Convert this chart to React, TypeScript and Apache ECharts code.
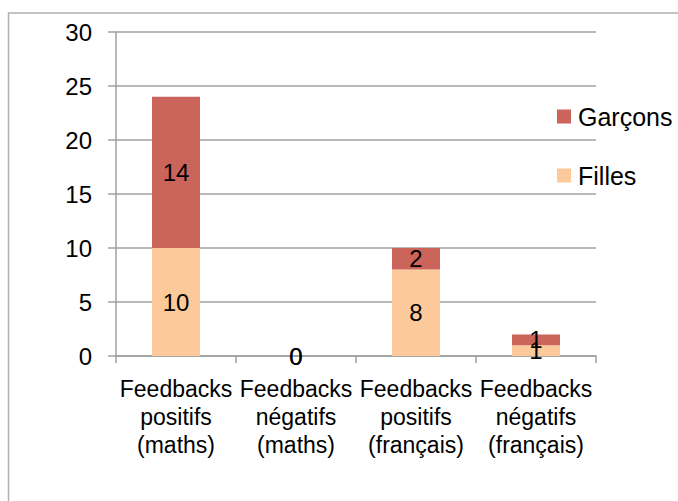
import React, { useEffect, useRef } from "react";
import * as echarts from "echarts";

const categories = [
  "Feedbacks\npositifs\n(maths)",
  "Feedbacks\nnégatifs\n(maths)",
  "Feedbacks\npositifs\n(français)",
  "Feedbacks\nnégatifs\n(français)",
];
const filles = [10, 0, 8, 1];
const garcons = [14, 0, 2, 1];
const seriesNames = ["Garçons", "Filles"];

const FONT = "'Liberation Sans', Arial, sans-serif";
const GRID_COLOR = "#a0a0a0";

export default function App() {
  const ref = useRef<HTMLDivElement>(null);
  useEffect(() => {
    if (!ref.current) return;
    const chart = echarts.init(ref.current, undefined, { renderer: "svg" });
    chart.setOption({
      animation: false,
      backgroundColor: "#ffffff",
      textStyle: { fontFamily: FONT },
      graphic: [
        {
          type: "rect",
          shape: { x: 8.5, y: 13, width: 720, height: 540 },
          style: { fill: "none", stroke: "#b0b0b0", lineWidth: 1.5 },
          silent: true,
          z: -10,
        },
      ],
      grid: { left: 116, right: 82, top: 32, bottom: 145, containLabel: false },
      legend: {
        data: [seriesNames[0], seriesNames[1]],
        orient: "vertical",
        left: 552,
        top: 99,
        itemWidth: 14,
        itemHeight: 14,
        itemGap: 34,
        icon: "rect",
        textStyle: { fontFamily: FONT, fontSize: 25, color: "#000", lineHeight: 25, padding: [0, 0, 0, 2] },
      },
      xAxis: {
        type: "category",
        data: categories,
        axisLine: { show: true, lineStyle: { color: GRID_COLOR, width: 1.5 } },
        axisTick: { show: true, length: 7, alignWithLabel: false, lineStyle: { color: GRID_COLOR, width: 1.5 } },
        axisLabel: {
          interval: 0,
          color: "#000",
          fontFamily: FONT,
          fontSize: 23,
          lineHeight: 28,
          margin: 19,
        },
      },
      yAxis: {
        type: "value",
        min: 0,
        max: 30,
        interval: 5,
        axisLine: { show: true, lineStyle: { color: GRID_COLOR, width: 1.5 } },
        axisTick: { show: true, length: 8, lineStyle: { color: GRID_COLOR, width: 1.5 } },
        splitLine: { show: true, lineStyle: { color: GRID_COLOR, width: 1.5 } },
        axisLabel: { color: "#000", fontFamily: FONT, fontSize: 24, margin: 24 },
      },
      series: [
        {
          name: seriesNames[1],
          type: "bar",
          stack: "total",
          data: filles,
          barWidth: 48,
          itemStyle: { color: "#fcc99b" },
          label: {
            show: true,
            position: "inside",
            color: "#000",
            fontFamily: FONT,
            fontSize: 24,
          },
        },
        {
          name: seriesNames[0],
          type: "bar",
          stack: "total",
          data: garcons,
          barWidth: 48,
          itemStyle: { color: "#cb645a" },
          label: {
            show: true,
            position: "inside",
            color: "#000",
            fontFamily: FONT,
            fontSize: 24,
          },
        },
      ],
    });
    return () => chart.dispose();
  }, []);
  return (
    <div
      ref={ref}
      style={{ position: "absolute", left: 0, top: 0, width: 678, height: 501 }}
    />
  );
}
